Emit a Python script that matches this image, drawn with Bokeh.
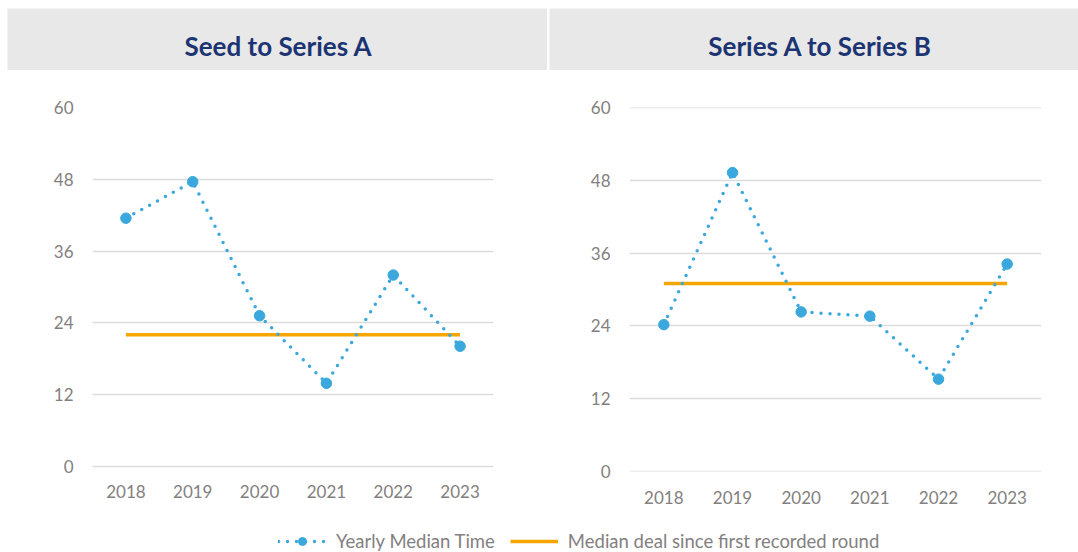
from bokeh.plotting import figure
from bokeh.models import Range1d, FactorRange, Legend, LegendItem
from bokeh.layouts import column, row
from bokeh.core.properties import value
from bokeh.embed import file_html
from bokeh.resources import INLINE

# ---- data ----
years = ["2018", "2019", "2020", "2021", "2022", "2023"]
titles = ["Seed to Series A", "Series A to Series B"]
seed_to_a = [41.5, 47.6, 25.2, 13.9, 32.0, 20.1]
seed_to_a_median = 22.0
a_to_b = [24.2, 49.3, 26.3, 25.6, 15.2, 34.2]
a_to_b_median = 31.0
y_ticks = [0, 12, 24, 36, 48, 60]
legend_labels = ["Yearly Median Time", "Median deal since first recorded round"]

BLUE = "#3aa8dc"
ORANGE = "#f5a600"
GREY_TXT = "#838080"
NAVY = "#1c3472"
BAND = "#e8e8e8"
FONT = "Lato"


def title_band(text, width, left_pad, cx):
    fw = width - left_pad
    t = figure(width=width, height=70, x_range=Range1d(0, fw), y_range=Range1d(0, 62),
               toolbar_location=None, output_backend="svg",
               min_border_left=left_pad, min_border_right=0, min_border_top=8, min_border_bottom=0,
               background_fill_color=BAND, border_fill_color="white", outline_line_color=None)
    t.axis.visible = False
    t.grid.visible = False
    t.text(x=[cx], y=[25], text=[text], text_font=value(FONT), text_font_style="bold",
           text_font_size="26px", text_color=NAVY, text_align="center", text_baseline="middle")
    return t


def chart(vals, med, width, height, bl, br, y0, y1, standoff):
    p = figure(width=width, height=height, x_range=FactorRange(*years), y_range=Range1d(y0, y1),
               toolbar_location=None, output_backend="svg",
               min_border_left=bl, min_border_right=br, min_border_top=37, min_border_bottom=55,
               outline_line_color=None, background_fill_color="white", border_fill_color="white")
    p.yaxis.ticker = y_ticks
    for ax in (p.xaxis[0], p.yaxis[0]):
        ax.axis_line_color = None
        ax.major_tick_line_color = None
        ax.minor_tick_line_color = None
        ax.major_label_text_font = FONT
        ax.major_label_text_font_size = "17px"
        ax.major_label_text_color = GREY_TXT
    p.xaxis.major_label_standoff = standoff
    p.yaxis.major_label_standoff = 13
    p.xgrid.grid_line_color = None
    p.ygrid.grid_line_color = "#dcdcdc"
    p.ygrid.grid_line_width = 1.5
    p.line(x=[years[0], years[-1]], y=[med, med], line_color=ORANGE, line_width=3.5)
    p.line(x=years, y=vals, line_color=BLUE, line_width=3.5, line_dash="0 9", line_cap="round")
    p.scatter(x=years, y=vals, size=10.5, fill_color=BLUE, line_color=BLUE, marker="circle")
    return p


t1 = title_band(titles[0], 547, 7, 271)
t2 = title_band(titles[1], 529, 0, 271)

c1 = chart(seed_to_a, seed_to_a_median, 548, 456, 92, 55, -0.84, 60.0, 7)
c2 = chart(a_to_b, a_to_b_median, 530, 456, 81, 37, -0.05, 60.05, 13)

# legend strip: renderers built from the data but kept outside the visible y range
lf = figure(width=1078, height=26, x_range=FactorRange(*years), y_range=Range1d(1000, 1001),
            toolbar_location=None, output_backend="svg", min_border=0, outline_line_color=None)
lf.axis.visible = False
lf.grid.visible = False
r_line = lf.line(x=years, y=seed_to_a, line_color=BLUE, line_width=3.5, line_dash="0 9", line_cap="round")
r_pt = lf.scatter(x=years, y=seed_to_a, size=10.5, fill_color=BLUE, line_color=BLUE, marker="circle")
r_med = lf.line(x=[years[0], years[-1]], y=[seed_to_a_median] * 2, line_color=ORANGE, line_width=3.5)
leg = Legend(items=[LegendItem(label=legend_labels[0], renderers=[r_line, r_pt]),
                    LegendItem(label=legend_labels[1], renderers=[r_med])],
             orientation="horizontal", location=(278, 0), padding=0, margin=0, spacing=15,
             glyph_width=48, glyph_height=20, label_standoff=10,
             label_text_font=FONT, label_text_font_size="18.5px", label_text_color=GREY_TXT,
             border_line_alpha=0, background_fill_alpha=0)
lf.add_layout(leg, "center")

layout = column(row(t1, t2, spacing=2), row(c1, c2), lf)

with open("out.html", "w") as f:
    f.write(file_html(layout, INLINE))
